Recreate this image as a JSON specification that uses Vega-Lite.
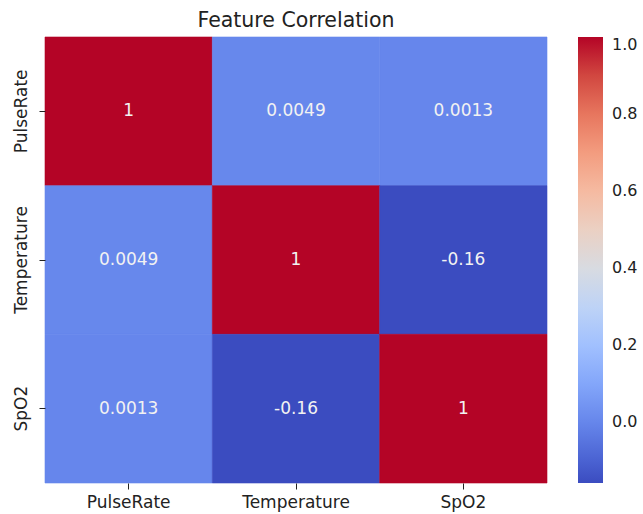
{
  "$schema": "https://vega.github.io/schema/vega-lite/v6.json",
  "width": 502,
  "height": 446,
  "autosize": "none",
  "padding": {"left": 45, "top": 37, "right": 96, "bottom": 31},
  "background": "white",
  "title": {"text": "Feature Correlation", "font": "DejaVu Sans", "fontSize": 20.5, "fontWeight": "normal", "color": "#222", "offset": 5},
  "config": {"view": {"stroke": null}},
  "data": {"values": [
    {"x": "PulseRate", "y": "PulseRate", "value": 1, "label": "1"},
    {"x": "Temperature", "y": "PulseRate", "value": 0.0049, "label": "0.0049"},
    {"x": "SpO2", "y": "PulseRate", "value": 0.0013, "label": "0.0013"},
    {"x": "PulseRate", "y": "Temperature", "value": 0.0049, "label": "0.0049"},
    {"x": "Temperature", "y": "Temperature", "value": 1, "label": "1"},
    {"x": "SpO2", "y": "Temperature", "value": -0.157, "label": "-0.16"},
    {"x": "PulseRate", "y": "SpO2", "value": 0.0013, "label": "0.0013"},
    {"x": "Temperature", "y": "SpO2", "value": -0.157, "label": "-0.16"},
    {"x": "SpO2", "y": "SpO2", "value": 1, "label": "1"}
  ]},
  "encoding": {
    "x": {"field": "x", "type": "nominal", "sort": ["PulseRate", "Temperature", "SpO2"],
      "scale": {"paddingInner": 0, "paddingOuter": 0},
      "axis": {"title": null, "labelAngle": 0, "labelFont": "DejaVu Sans", "labelFontSize": 17, "labelColor": "#222", "domain": false, "ticks": true, "tickSize": 6, "tickColor": "#222", "labelPadding": 5}},
    "y": {"field": "y", "type": "nominal", "sort": ["PulseRate", "Temperature", "SpO2"],
      "scale": {"paddingInner": 0, "paddingOuter": 0},
      "axis": {"title": null, "labelAngle": 270, "labelAlign": "center", "labelBaseline": "bottom", "labelFont": "DejaVu Sans", "labelFontSize": 17, "labelColor": "#222", "domain": false, "ticks": true, "tickSize": 6, "tickColor": "#222", "labelPadding": 9}}
  },
  "layer": [
    {
      "mark": {"type": "rect", "strokeWidth": 0.6},
      "encoding": {
        "color": {"field": "value", "type": "quantitative",
          "scale": {"domain": [-0.157, 1], "zero": false, "nice": false, "interpolate": "rgb",
            "range": ["#3b4cc0", "#5a78e4", "#7b9ff9", "#9ebeff", "#c0d4f5", "#dddcdc", "#f2cbb7", "#f7ac8e", "#ee8468", "#d65244", "#b40426"]},
          "legend": {"type": "gradient", "title": null, "orient": "right", "offset": 31, "gradientLength": 446, "gradientThickness": 25, "gradientStrokeWidth": 0,
            "values": [0, 0.2, 0.4, 0.6, 0.8, 1.0], "format": ".1f", "labelFont": "DejaVu Sans", "labelFontSize": 16, "labelColor": "#222", "labelOffset": 9, "labelOverlap": false, "labelBaseline": "middle"}},
        "stroke": {"field": "value", "type": "quantitative", "legend": null,
          "scale": {"domain": [-0.1570001, 1], "zero": false, "nice": false, "interpolate": "rgb",
            "range": ["#3b4cc0", "#5a78e4", "#7b9ff9", "#9ebeff", "#c0d4f5", "#dddcdc", "#f2cbb7", "#f7ac8e", "#ee8468", "#d65244", "#b40426"]}}
      }
    },
    {
      "mark": {"type": "text", "color": "#f2f2f2", "font": "DejaVu Sans", "fontSize": 17},
      "encoding": {"text": {"field": "label", "type": "nominal"}}
    }
  ]
}
